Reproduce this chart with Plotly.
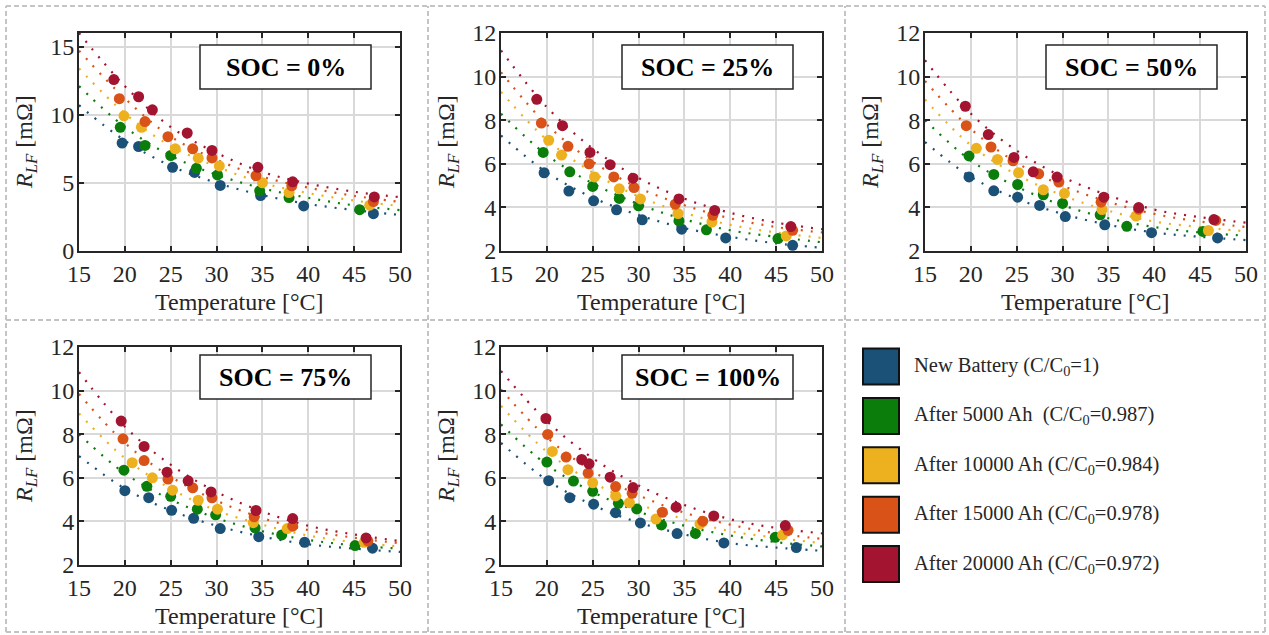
import plotly.graph_objects as go

# ---- series definitions -------------------------------------------------
SERIES_NAMES = [
    "New Battery (C/C<sub>0</sub>=1)",
    "After 5000 Ah &#160;(C/C<sub>0</sub>=0.987)",
    "After 10000 Ah (C/C<sub>0</sub>=0.984)",
    "After 15000 Ah (C/C<sub>0</sub>=0.978)",
    "After 20000 Ah (C/C<sub>0</sub>=0.972)",
]
SERIES_COLORS = ["#1C5177", "#0A7D0A", "#EDB120", "#D95319", "#A2142F"]

SOC_LABELS = ["SOC = 0%", "SOC = 25%", "SOC = 50%", "SOC = 75%", "SOC = 100%"]

X_TICKS = [15, 20, 25, 30, 35, 40, 45, 50]
Y_TICKS_SOC0 = [0, 5, 10, 15]
Y_TICKS = [2, 4, 6, 8, 10, 12]

# temperatures at which the fitted curves are listed
FIT_T = [15, 20, 25, 30, 35, 40, 45, 50]

# ---- SOC = 0 % ----------------------------------------------------------
soc0_temp = [
    [19.7, 21.5, 25.2, 27.6, 30.4, 34.8, 39.5, 47.1],
    [19.5, 22.2, 25.0, 27.8, 30.1, 34.7, 37.9, 45.6],
    [19.9, 21.8, 25.5, 28.0, 30.3, 35.0, 37.9, 46.7],
    [19.4, 22.2, 24.7, 27.4, 29.5, 34.3, 38.2, 47.1],
    [18.8, 21.5, 23.0, 26.8, 29.5, 34.5, 38.3, 47.2],
]
soc0_rlf = [
    [7.92, 7.67, 6.14, 5.77, 4.81, 4.07, 3.31, 2.74],
    [9.08, 7.75, 7.01, 6.07, 5.58, 4.42, 3.92, 3.03],
    [9.92, 9.08, 7.50, 6.81, 6.24, 5.01, 4.29, 3.36],
    [11.18, 9.50, 8.39, 7.50, 6.83, 5.53, 4.79, 3.63],
    [12.58, 11.32, 10.36, 8.66, 7.38, 6.14, 5.08, 3.97],
]
soc0_fit = [
    [10.7, 8.1, 6.25, 5.0, 4.1, 3.45, 3.0, 2.65],
    [12.1, 9.1, 7.0, 5.6, 4.6, 3.9, 3.35, 3.0],
    [13.4, 10.1, 7.7, 6.2, 5.0, 4.25, 3.7, 3.3],
    [14.7, 11.2, 8.4, 6.7, 5.45, 4.65, 4.05, 3.6],
    [16.0, 12.1, 9.1, 7.2, 5.8, 4.95, 4.35, 3.95],
]

# ---- SOC = 25 % ---------------------------------------------------------
soc25_temp = [
    [19.7, 22.4, 25.1, 27.6, 30.4, 34.7, 39.5, 46.8],
    [19.6, 22.5, 25.0, 27.9, 30.0, 34.4, 37.4, 45.2],
    [20.2, 21.6, 25.2, 27.9, 30.2, 34.3, 38.0, 46.1],
    [19.4, 22.3, 24.6, 27.3, 29.5, 34.0, 38.1, 46.8],
    [18.9, 21.7, 24.7, 26.9, 29.4, 34.4, 38.3, 46.6],
]
soc25_rlf = [
    [5.59, 4.75, 4.30, 3.89, 3.43, 3.00, 2.60, 2.26],
    [6.52, 5.63, 4.96, 4.41, 4.07, 3.38, 2.97, 2.57],
    [7.08, 6.40, 5.40, 4.85, 4.39, 3.72, 3.33, 2.69],
    [7.87, 6.80, 6.00, 5.40, 4.91, 4.15, 3.64, 2.95],
    [8.96, 7.75, 6.52, 5.96, 5.34, 4.39, 3.86, 3.12],
]
soc25_fit = [
    [7.3, 5.6, 4.45, 3.65, 3.05, 2.65, 2.35, 2.15],
    [8.3, 6.4, 5.1, 4.15, 3.45, 2.95, 2.65, 2.4],
    [9.3, 7.1, 5.6, 4.5, 3.75, 3.2, 2.85, 2.6],
    [10.2, 7.8, 6.1, 4.9, 4.1, 3.5, 3.1, 2.85],
    [11.2, 8.6, 6.7, 5.35, 4.4, 3.75, 3.3, 3.0],
]

# ---- SOC = 50 % ---------------------------------------------------------
soc50_temp = [
    [19.8, 22.5, 25.1, 27.5, 30.3, 34.6, 39.7, 46.9],
    [19.8, 22.5, 25.1, 27.9, 30.0, 34.1, 37.0, 45.3],
    [20.6, 22.9, 25.2, 27.9, 30.2, 34.3, 38.0, 45.9],
    [19.5, 22.2, 24.6, 27.4, 29.6, 34.2, 38.3, 46.7],
    [19.4, 21.9, 24.7, 26.8, 29.4, 34.5, 38.3, 46.5],
]
soc50_rlf = [
    [5.40, 4.76, 4.47, 4.09, 3.58, 3.20, 2.84, 2.60],
    [6.36, 5.51, 5.05, 4.58, 4.18, 3.66, 3.13, 2.90],
    [6.71, 6.20, 5.59, 4.81, 4.64, 3.90, 3.60, 2.94],
    [7.75, 6.77, 6.14, 5.54, 5.16, 4.24, 3.92, 3.40],
    [8.64, 7.34, 6.29, 5.63, 5.39, 4.47, 3.99, 3.44],
]
soc50_fit = [
    [7.0, 5.4, 4.4, 3.7, 3.2, 2.85, 2.65, 2.5],
    [8.0, 6.15, 4.95, 4.1, 3.5, 3.1, 2.85, 2.7],
    [8.95, 6.85, 5.5, 4.55, 3.85, 3.35, 3.1, 2.9],
    [9.8, 7.6, 6.05, 5.0, 4.25, 3.7, 3.35, 3.1],
    [10.75, 8.3, 6.6, 5.4, 4.55, 3.9, 3.55, 3.3],
]

# ---- SOC = 75 % ---------------------------------------------------------
soc75_temp = [
    [20.0, 22.6, 25.1, 27.5, 30.4, 34.6, 39.6, 47.0],
    [19.9, 22.4, 25.0, 27.9, 29.9, 34.2, 37.1, 45.1],
    [20.8, 23.0, 25.2, 28.0, 30.1, 34.0, 37.7, 46.1],
    [19.8, 22.1, 24.7, 27.4, 29.5, 34.1, 38.3, 46.5],
    [19.6, 22.1, 24.6, 26.9, 29.4, 34.3, 38.3, 46.3],
]
soc75_rlf = [
    [5.41, 5.09, 4.51, 4.14, 3.67, 3.30, 3.04, 2.77],
    [6.35, 5.61, 5.15, 4.56, 4.30, 3.70, 3.38, 2.89],
    [6.69, 6.00, 5.43, 4.97, 4.56, 3.94, 3.67, 3.04],
    [7.79, 6.79, 5.94, 5.54, 5.08, 4.21, 3.78, 3.10],
    [8.60, 7.44, 6.26, 5.86, 5.35, 4.50, 4.13, 3.24],
]
soc75_fit = [
    [7.0, 5.5, 4.5, 3.8, 3.3, 2.95, 2.75, 2.6],
    [8.0, 6.2, 5.0, 4.15, 3.55, 3.15, 2.9, 2.75],
    [8.95, 6.9, 5.5, 4.5, 3.85, 3.35, 3.05, 2.85],
    [9.85, 7.6, 6.05, 4.95, 4.15, 3.6, 3.25, 3.0],
    [10.85, 8.35, 6.6, 5.35, 4.45, 3.8, 3.4, 3.1],
]

# ---- SOC = 100 % --------------------------------------------------------
soc100_temp = [
    [20.2, 22.5, 25.1, 27.5, 30.2, 34.2, 39.3, 47.2],
    [20.0, 22.9, 25.0, 27.8, 29.8, 32.5, 36.2, 44.9],
    [20.6, 22.3, 25.0, 27.5, 29.0, 31.9, 36.7, 45.7],
    [20.1, 22.1, 24.5, 27.5, 29.3, 32.6, 37.0, 46.3],
    [19.9, 23.8, 24.6, 26.9, 29.4, 34.1, 38.2, 46.0],
]
soc100_rlf = [
    [5.87, 5.09, 4.79, 4.40, 3.93, 3.44, 3.01, 2.80],
    [6.72, 5.85, 5.38, 4.83, 4.57, 3.84, 3.45, 3.27],
    [7.21, 6.37, 5.77, 5.17, 4.86, 4.11, 3.88, 3.38],
    [7.99, 6.95, 6.21, 5.60, 5.29, 4.42, 4.01, 3.59],
    [8.72, 6.84, 6.64, 6.03, 5.55, 4.65, 4.25, 3.81],
]
soc100_fit = [
    [7.6, 5.9, 4.75, 3.95, 3.4, 3.0, 2.8, 2.65],
    [8.45, 6.6, 5.35, 4.45, 3.8, 3.35, 3.05, 2.85],
    [9.3, 7.2, 5.8, 4.8, 4.1, 3.55, 3.25, 3.0],
    [10.05, 7.85, 6.3, 5.2, 4.4, 3.85, 3.45, 3.2],
    [10.9, 8.6, 6.9, 5.65, 4.75, 4.1, 3.7, 3.45],
]

PANELS = [
    (soc0_temp, soc0_rlf, soc0_fit, [0, 16], Y_TICKS_SOC0),
    (soc25_temp, soc25_rlf, soc25_fit, [2, 12], Y_TICKS),
    (soc50_temp, soc50_rlf, soc50_fit, [2, 12], Y_TICKS),
    (soc75_temp, soc75_rlf, soc75_fit, [2, 12], Y_TICKS),
    (soc100_temp, soc100_rlf, soc100_fit, [2, 12], Y_TICKS),
]

# ---- page geometry (pixels) ---------------------------------------------
W, H = 1269, 635
COL_X = [(79, 400), (501, 822), (925, 1246)]
ROW_Y = [(33, 251), (347, 565)]
CELL_OF_PANEL = [(0, 0), (0, 1), (0, 2), (1, 0), (1, 1)]

SERIF = "Liberation Serif"
INK = "#262626"


def px_x(x):
    return x / W


def px_y(y):
    return 1 - y / H


fig = go.Figure()
shapes = []
annotations = []

for i, (temps, rlf, fit, yrange, yticks) in enumerate(PANELS):
    row, col = CELL_OF_PANEL[i]
    n = i + 1
    xa = "x" if n == 1 else f"x{n}"
    ya = "y" if n == 1 else f"y{n}"

    # fitted curves (dotted)
    for k in range(5):
        fig.add_trace(go.Scatter(
            x=FIT_T, y=fit[k], xaxis=xa, yaxis=ya, mode="lines",
            line=dict(color=SERIES_COLORS[k], width=2.2, dash="2px,8px",
                      shape="spline", smoothing=1.0),
            showlegend=False, hoverinfo="skip",
        ))
    # measured points
    for k in range(5):
        fig.add_trace(go.Scatter(
            x=temps[k], y=rlf[k], xaxis=xa, yaxis=ya, mode="markers",
            marker=dict(color=SERIES_COLORS[k], size=11, line=dict(width=0)),
            showlegend=False,
        ))

    x0, x1 = COL_X[col]
    y0, y1 = ROW_Y[row]
    axis_common = dict(
        showgrid=True, gridcolor="#d9d9d9", gridwidth=2,
        showline=True, linecolor=INK, linewidth=2, mirror="ticks",
        ticks="inside", ticklen=5, tickwidth=1.5, tickcolor=INK,
        tickfont=dict(family=SERIF, size=24, color=INK),
        zeroline=False, automargin=False,
    )
    fig.update_layout(**{
        ("xaxis" if n == 1 else f"xaxis{n}"): dict(
            axis_common, range=[15, 50], tickvals=X_TICKS,
            domain=[px_x(x0), px_x(x1)], anchor=ya, ticklabelstandoff=0,
        ),
        ("yaxis" if n == 1 else f"yaxis{n}"): dict(
            axis_common, range=yrange, tickvals=yticks,
            domain=[px_y(y1), px_y(y0)], anchor=xa, ticklabelstandoff=-2,
        ),
    })

    # axis titles
    annotations.append(dict(
        text="Temperature [°C]", xref="paper", yref="paper",
        x=px_x((x0 + x1) / 2), y=px_y(y1 + 51), xanchor="center",
        yanchor="middle", showarrow=False,
        font=dict(family=SERIF, size=24, color=INK),
    ))
    annotations.append(dict(
        text="<i>R</i><sub><i>LF</i></sub> [mΩ]", xref="paper", yref="paper",
        x=px_x(x0 - 53), y=px_y((y0 + y1) / 2), xanchor="center",
        yanchor="middle", showarrow=False, textangle=-90,
        font=dict(family=SERIF, size=24, color=INK),
    ))

    # SOC label box
    top_off = 12 if row == 0 else 8
    bx0, bx1 = x0 + 121, x0 + 292
    by0, by1 = y0 + top_off, y0 + top_off + 44
    shapes.append(dict(
        type="rect", xref="paper", yref="paper",
        x0=px_x(bx0), x1=px_x(bx1), y0=px_y(by1), y1=px_y(by0),
        fillcolor="white", line=dict(color=INK, width=1.5), layer="above",
    ))
    annotations.append(dict(
        text=f"<b>{SOC_LABELS[i]}</b>", xref="paper", yref="paper",
        x=px_x((bx0 + bx1) / 2), y=px_y((by0 + by1) / 2),
        xanchor="center", yanchor="middle", showarrow=False,
        font=dict(family=SERIF, size=26, color="black"),
    ))

# legend in the sixth cell
for k, name in enumerate(SERIES_NAMES):
    top = 348.5 + k * 49.4
    shapes.append(dict(
        type="rect", xref="paper", yref="paper",
        x0=px_x(863), x1=px_x(899), y0=px_y(top + 36), y1=px_y(top),
        fillcolor=SERIES_COLORS[k], line=dict(color="#111111", width=2),
    ))
    annotations.append(dict(
        text=name, xref="paper", yref="paper",
        x=px_x(912), y=px_y(top + 18), xanchor="left", yanchor="middle",
        showarrow=False, font=dict(family=SERIF, size=20.5, color=INK),
    ))

# dashed cell borders
BORDER = dict(color="#c4c4c4", width=2, dash="5px,3px")
for xv in [6, 428, 845, 1265]:
    shapes.append(dict(type="line", xref="paper", yref="paper",
                       x0=px_x(xv), x1=px_x(xv), y0=px_y(632), y1=px_y(6),
                       line=BORDER))
for yv in [6, 320, 632]:
    shapes.append(dict(type="line", xref="paper", yref="paper",
                       x0=px_x(6), x1=px_x(1265), y0=px_y(yv), y1=px_y(yv),
                       line=BORDER))

fig.update_layout(
    width=W, height=H, autosize=False,
    margin=dict(l=0, r=0, t=0, b=0, pad=0, autoexpand=False),
    paper_bgcolor="white", plot_bgcolor="white",
    showlegend=False,
    shapes=shapes, annotations=annotations,
    font=dict(family=SERIF, color=INK),
)

fig.write_html("out.html")
